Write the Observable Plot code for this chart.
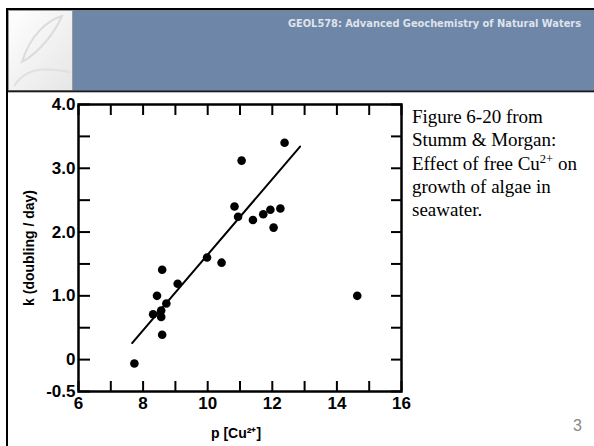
<!DOCTYPE html>
<html><head><meta charset="utf-8">
<script src="https://cdn.jsdelivr.net/npm/d3@7"></script>
<script src="https://cdn.jsdelivr.net/npm/@observablehq/plot@0.6"></script>
<style>
body{margin:0;background:#fff;}
#slide{position:relative;width:594px;height:446px;overflow:hidden;background:#fff;}
#hdr{position:absolute;left:0;top:0;}
#chart{position:absolute;left:0;top:92px;}
#caption{position:absolute;left:412px;top:105px;width:180px;font-family:"Liberation Serif","Times New Roman",serif;font-size:19px;line-height:23.3px;color:#000;white-space:nowrap;}
#caption sup{font-size:12.5px;vertical-align:7px;line-height:0;}
#pnum{position:absolute;left:573px;top:417px;font-family:"Liberation Sans",Arial,sans-serif;font-size:16px;color:#888;}
#lborder{position:absolute;left:6px;top:8px;width:2px;height:438px;background:#000;z-index:5;}
</style></head><body>
<div id="slide">
<svg id="hdr" width="594" height="94">
  <defs>
    <linearGradient id="lg" x1="0" y1="0" x2="1" y2="1">
      <stop offset="0" stop-color="#ffffff"/><stop offset="0.5" stop-color="#f2f2f2"/><stop offset="1" stop-color="#e6e6e6"/>
    </linearGradient>
  </defs>
  <rect x="6" y="8" width="588" height="2.5" fill="#000"/>
  <rect x="73" y="10.5" width="521" height="80.5" fill="#6e86a8"/>
  <rect x="8.5" y="10.5" width="64" height="80" fill="url(#lg)" stroke="#9a9a9a" stroke-width="1"/>
  <path d="M22,62 C30,35 48,20 62,16 C55,32 40,52 22,62 Z" fill="none" stroke="#dcdcdc" stroke-width="2"/>
  <path d="M14,86 C24,70 40,66 70,72" fill="none" stroke="#e0e0e0" stroke-width="2"/>
  <rect x="8" y="90.5" width="586" height="1.8" fill="#1a1a1a"/>
  <text x="581" y="26.5" text-anchor="end" textLength="293" lengthAdjust="spacingAndGlyphs" font-family="DejaVu Sans, Verdana, sans-serif" font-weight="bold" font-size="10" fill="#dfe3ea">GEOL578: Advanced Geochemistry of Natural Waters</text>
</svg>
<div id="chart"></div>
<div id="caption">Figure 6-20 from<br>Stumm &amp; Morgan:<br>Effect of free Cu<sup>2+</sup> on<br>growth of algae in<br>seawater.</div>
<div id="pnum">3</div>
<div id="lborder"></div>
</div>
<script>
// Data
const pCu   = [7.73, 8.31, 8.43, 8.56, 8.56, 8.59, 8.59, 8.72, 9.07, 9.98, 10.43, 10.83, 10.94, 11.05, 11.40, 11.72, 11.94, 12.04, 12.25, 12.38, 14.63];
const kRate = [-0.06, 0.71, 1.00, 0.77, 0.67, 0.39, 1.41, 0.88, 1.19, 1.60, 1.52, 2.40, 2.24, 3.12, 2.19, 2.28, 2.35, 2.07, 2.37, 3.40, 1.00];
const fitX = [7.66, 12.86];
const fitY = [0.26, 3.34];
const xTickValues = [6, 7, 8, 9, 10, 11, 12, 13, 14, 15, 16];
const xLabelValues = [6, 8, 10, 12, 14, 16];
const yTickValues = [-0.5, 0, 0.5, 1, 1.5, 2, 2.5, 3, 3.5, 4];
const yLabelValues = [-0.5, 0, 1, 2, 3, 4];
const yLabelText = ["-0.5", "0", "1.0", "2.0", "3.0", "4.0"];
const xTitle = "p [Cu²⁺]";
const yTitle = "k (doubling / day)";

const points = pCu.map((p, i) => ({p, k: kRate[i]}));
const fit = fitX.map((p, i) => ({p, k: fitY[i]}));
const blank = () => "";
const FS = 17;

const chart = Plot.plot({
  width: 410, height: 354,
  marginLeft: 78, marginRight: 9, marginTop: 12, marginBottom: 55,
  x: {domain: [6, 16], label: null},
  y: {domain: [-0.5, 4], label: null},
  style: {background: "transparent", fontFamily: "'Liberation Sans', Arial, sans-serif", fontWeight: "bold", fontSize: "17px", color: "#000", overflow: "visible"},
  marks: [
    Plot.axisX(xTickValues, {anchor: "bottom", tickSize: 10, dy: -10, strokeWidth: 2, tickFormat: blank, label: null}),
    Plot.axisX(xTickValues, {anchor: "top", tickSize: 10, dy: 10, strokeWidth: 2, tickFormat: blank, label: null}),
    Plot.axisY(yTickValues, {anchor: "left", tickSize: 12, dx: 12, strokeWidth: 2, tickFormat: blank, label: null}),
    Plot.axisY(yTickValues, {anchor: "right", tickSize: 11, dx: -11, strokeWidth: 2, tickFormat: blank, label: null}),
    Plot.axisX(xLabelValues, {anchor: "bottom", tickSize: 0, tickPadding: 5, fontSize: FS, fontWeight: "bold", label: null}),
    Plot.axisY(yLabelValues, {anchor: "left", tickSize: 0, tickPadding: 3, fontSize: FS, fontWeight: "bold", tickFormat: d => yLabelText[yLabelValues.indexOf(d)], label: null}),
    Plot.frame({stroke: "#000", strokeWidth: 2.5}),
    Plot.line(fit, {x: "p", y: "k", stroke: "#000", strokeWidth: 2}),
    Plot.dot(points, {x: "p", y: "k", r: 4.3, fill: "#000", stroke: "none"}),
    Plot.text([yTitle], {frameAnchor: "left", textAnchor: "middle", dx: -49, rotate: -90, fontSize: 14, fontWeight: "bold"}),
    Plot.text([xTitle], {frameAnchor: "bottom", lineAnchor: "middle", dy: 42, dx: -4, fontSize: 14, fontWeight: "bold"})
  ]
});
document.getElementById("chart").appendChild(chart);
</script>
</body></html>
